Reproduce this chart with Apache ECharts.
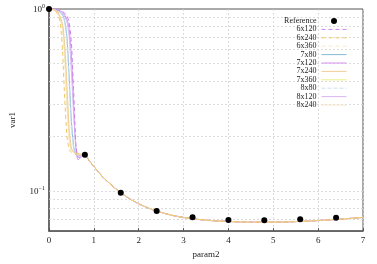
<!DOCTYPE html>
<html><head><meta charset="utf-8">
<script src="https://cdn.jsdelivr.net/npm/echarts@6/dist/echarts.min.js"></script>
<style>html,body{margin:0;padding:0;background:#fff}#c{width:377px;height:264px}</style>
</head><body><div id="c"></div>
<script>
// Reference points
const refX = [0, 0.8, 1.6, 2.4, 3.2, 4.0, 4.8, 5.6, 6.4];
const refY = [1.0, 0.158, 0.0976, 0.0775, 0.0714, 0.0691, 0.0689, 0.0697, 0.0711];

// shared tail (x >= 0.8)
const tailX = [0.8, 0.9, 1.0, 1.2, 1.4, 1.6, 1.8, 2.0, 2.2, 2.4, 2.7, 3.0, 3.3, 3.6, 4.0, 4.5, 5.0, 5.5, 6.0, 6.5, 7.0];
const tailY = [0.158, 0.146, 0.136, 0.119, 0.107, 0.0975, 0.0903, 0.0848, 0.0806, 0.0773, 0.0737, 0.0713, 0.0697, 0.0686, 0.0678, 0.0672, 0.0672, 0.0677, 0.0686, 0.0698, 0.0714];

// heads (x < 0.8) per series
const h6x120X = [0, 0.1, 0.2, 0.3, 0.4, 0.45, 0.5, 0.55, 0.58, 0.6, 0.63, 0.67, 0.72];
const h6x120Y = [1, 0.998, 0.99, 0.97, 0.92, 0.84, 0.65, 0.35, 0.23, 0.18, 0.155, 0.152, 0.155];
const h6x240X = [0, 0.1, 0.15, 0.2, 0.25, 0.3, 0.35, 0.4, 0.45, 0.5, 0.6, 0.7];
const h6x240Y = [1, 0.99, 0.97, 0.93, 0.84, 0.6, 0.32, 0.2, 0.168, 0.162, 0.16, 0.159];
const h6x360X = [0, 0.1, 0.2, 0.25, 0.3, 0.35, 0.4, 0.45, 0.5, 0.6, 0.7];
const h6x360Y = [1, 0.99, 0.96, 0.9, 0.76, 0.5, 0.28, 0.19, 0.165, 0.16, 0.159];
const h7x80X = [0, 0.1, 0.2, 0.3, 0.35, 0.4, 0.45, 0.5, 0.55, 0.6, 0.65, 0.7];
const h7x80Y = [1, 0.995, 0.98, 0.93, 0.86, 0.7, 0.42, 0.24, 0.175, 0.158, 0.155, 0.157];
const h7x120X = [0, 0.1, 0.2, 0.3, 0.4, 0.45, 0.5, 0.55, 0.58, 0.61, 0.65, 0.7];
const h7x120Y = [1, 0.998, 0.99, 0.96, 0.88, 0.77, 0.55, 0.3, 0.2, 0.16, 0.148, 0.152];
const h7x240X = [0, 0.1, 0.2, 0.3, 0.35, 0.4, 0.45, 0.5, 0.55, 0.65, 0.7];
const h7x240Y = [1, 0.99, 0.96, 0.83, 0.64, 0.38, 0.22, 0.172, 0.163, 0.16, 0.159];
const h7x360X = [0, 0.1, 0.2, 0.3, 0.35, 0.4, 0.45, 0.5, 0.6, 0.7];
const h7x360Y = [1, 0.99, 0.96, 0.8, 0.57, 0.33, 0.2, 0.168, 0.161, 0.159];
const h8x80X = [0, 0.1, 0.2, 0.3, 0.35, 0.4, 0.45, 0.5, 0.55, 0.6, 0.7];
const h8x80Y = [1, 0.995, 0.98, 0.92, 0.84, 0.65, 0.38, 0.22, 0.17, 0.157, 0.157];
const h8x120X = [0, 0.1, 0.2, 0.3, 0.4, 0.45, 0.5, 0.55, 0.6, 0.65, 0.7];
const h8x120Y = [1, 0.997, 0.985, 0.95, 0.85, 0.7, 0.45, 0.26, 0.175, 0.155, 0.155];
const h8x240X = [0, 0.1, 0.2, 0.3, 0.35, 0.4, 0.45, 0.5, 0.6, 0.7];
const h8x240Y = [1, 0.99, 0.95, 0.78, 0.55, 0.3, 0.19, 0.166, 0.16, 0.159];

const seriesNames = ['6x120','6x240','6x360','7x80','7x120','7x240','7x360','8x80','8x120','8x240'];
const heads = [[h6x120X,h6x120Y],[h6x240X,h6x240Y],[h6x360X,h6x360Y],[h7x80X,h7x80Y],[h7x120X,h7x120Y],
               [h7x240X,h7x240Y],[h7x360X,h7x360Y],[h8x80X,h8x80Y],[h8x120X,h8x120Y],[h8x240X,h8x240Y]];
const colors = ['#cc80ee','#f0c860','#f6eec0','#88b8d4','#d490f0','#f2cc98','#eeee88','#c8e2f2','#dab6f2','#f6e6cc'];
const dashes = [[4,3],[4,3],[4,3],'solid','solid','solid','solid',[4,2],'solid','solid'];
const layer = [3,4,2,2,2,3,2,2,2,2];

const gridVals = [0.07,0.08,0.09,0.1,0.2,0.3,0.4,0.5,0.6,0.7,0.8,0.9];
const FONT = '"Liberation Serif", "DejaVu Serif", serif';

const series = seriesNames.map((n,i)=>{
  const xs = heads[i][0].concat(tailX), ys = heads[i][1].concat(tailY);
  return {name:n, type:'line', symbol:'none', smooth:0.2, z:layer[i], color:colors[i],
    data: xs.map((x,k)=>[x, ys[k]]),
    lineStyle:{color:colors[i], width:1, type:dashes[i]}, itemStyle:{color:colors[i]}};
});
series.unshift({name:'Reference', type:'scatter', symbol:'circle', symbolSize:6, z:6,
  itemStyle:{color:'#000', opacity:1}, data: refX.map((x,k)=>[x, refY[k]]),
  markLine:{silent:true, symbol:'none', label:{show:false}, animation:false, z:1,
    lineStyle:{color:'#d4d4d4', type:[2,2], width:0.8},
    data: gridVals.map(v=>({yAxis:v}))}});

const legendData = [{name:'Reference', icon:'circle', itemStyle:{opacity:1, color:'#000'}}].concat(
  seriesNames.map((n,i)=>({name:n, itemStyle:{opacity:0, color:colors[i]},
    lineStyle:{color:colors[i], type:dashes[i], width:1, opacity:1}})));

const chart = echarts.init(document.getElementById('c'), null, {renderer:'canvas'});
chart.setOption({
  animation:false,
  backgroundColor:'#fff',
  textStyle:{fontFamily:FONT},
  grid:{left:41, right:14, top:9, bottom:27.5, show:true, borderColor:'#555', borderWidth:1},
  legend:{orient:'vertical', right:25, top:12, align:'right', itemWidth:25, itemHeight:6, itemGap:0.4,
    textStyle:{fontFamily:FONT, fontSize:8, color:'#222', lineHeight:8},
    data: legendData},
  xAxis:{type:'value', min:0, max:7, interval:1, name:'param2', nameLocation:'middle', nameGap:18,
    nameTextStyle:{fontFamily:FONT, fontSize:9, color:'#222'},
    axisLine:{show:true, onZero:false, lineStyle:{color:'#555', width:1.5}},
    axisTick:{show:true, inside:true, length:3, lineStyle:{color:'#555'}},
    axisLabel:{fontFamily:FONT, fontSize:9, color:'#222', margin:5},
    splitLine:{show:true, lineStyle:{color:'#d4d4d4', type:[2,2], width:0.8}}},
  yAxis:{type:'log', logBase:10, min:0.06, max:1, name:'var1', nameLocation:'middle', nameGap:32,
    nameTextStyle:{fontFamily:FONT, fontSize:9, color:'#222'},
    axisLine:{show:true, onZero:false, lineStyle:{color:'#555', width:1.5}},
    axisTick:{show:false},
    splitLine:{show:false},
    axisLabel:{margin:4, showMinLabel:false,
      formatter:v=>{ if(Math.abs(v-1)<1e-6) return '{b|10}{s|0}'; if(Math.abs(v-0.1)<1e-6) return '{b|10}{s|\u22121}'; return ''; },
      rich:{b:{fontFamily:FONT, fontSize:9, color:'#222', lineHeight:11, verticalAlign:'bottom'},
            s:{fontFamily:FONT, fontSize:6, color:'#222', lineHeight:11, verticalAlign:'top'}}}},
  series: series
});
</script></body></html>
